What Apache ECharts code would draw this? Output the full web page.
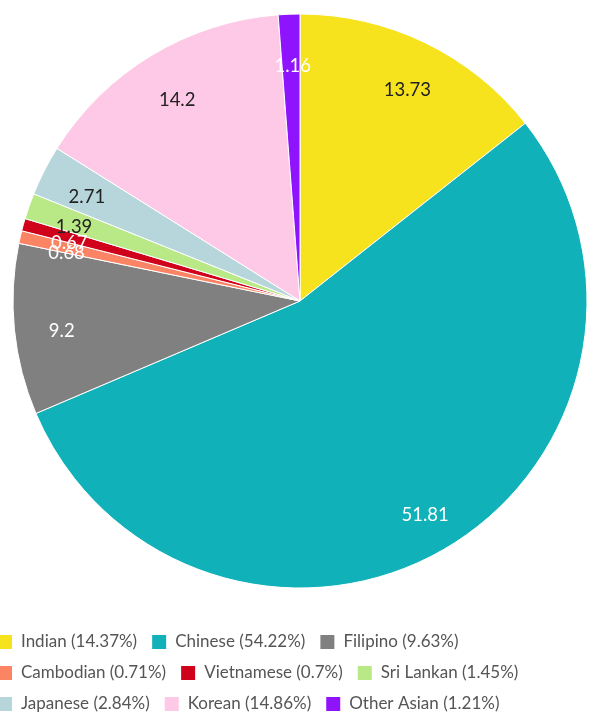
<!DOCTYPE html>
<html>
<head>
<meta charset="utf-8">
<script src="https://cdn.jsdelivr.net/npm/echarts@6/dist/echarts.min.js"></script>
<style>
html, body { margin: 0; padding: 0; background: #fff; }
#pie { width: 611px; height: 713px; }
</style>
</head>
<body>
<div id="pie"></div>
<script>
var categories = ['Indian', 'Chinese', 'Filipino', 'Cambodian', 'Vietnamese', 'Sri Lankan', 'Japanese', 'Korean', 'Other Asian'];
var values = [13.73, 51.81, 9.2, 0.68, 0.67, 1.39, 2.71, 14.2, 1.16];
var colors = ['#f6e21d', '#10b1b9', '#808080', '#fb8465', '#d0021b', '#b8e986', '#b6d6dc', '#fdc9e6', '#9013fe'];
var labelColors = ['#222', '#fff', '#fff', '#fff', '#fff', '#222', '#222', '#222', '#fff'];

var total = values.reduce(function (a, b) { return a + b; }, 0);

var seriesData = [];
var labelData = [];
for (var i = 0; i < categories.length; i++) {
    seriesData.push({ name: categories[i], value: values[i], itemStyle: { color: colors[i] } });
    labelData.push({
        name: categories[i],
        value: values[i],
        label: { color: labelColors[i] }
    });
}

var chart = echarts.init(document.getElementById('pie'));
chart.setOption({
    animation: false,
    legend: {
        left: -4,
        top: 633,
        padding: 0,
        width: 600,
        itemWidth: 16,
        itemHeight: 16,
        itemGap: 13,
        icon: 'rect',
        textStyle: { fontFamily: 'Lato', fontSize: 17, color: '#555', lineHeight: 16, padding: [0, 0, 0, 3] },
        data: categories,
        formatter: function (name) {
            var idx = categories.indexOf(name);
            var pct = Number((values[idx] / total * 100).toFixed(2));
            return name + ' (' + pct + '%)';
        }
    },
    series: [
        {
            type: 'pie',
            center: [300, 301],
            radius: 287,
            startAngle: 90,
            clockwise: true,
            label: { show: false },
            labelLine: { show: false },
            itemStyle: { borderColor: '#fff', borderWidth: 1 },
            emphasis: { disabled: true },
            data: seriesData
        },
        {
            type: 'pie',
            center: [300, 301],
            radius: [190, 287],
            startAngle: 90,
            clockwise: true,
            silent: true,
            legendHoverLink: false,
            itemStyle: { color: 'transparent' },
            label: {
                show: true,
                position: 'inside',
                fontFamily: 'Lato',
                fontSize: 18.5,
                offset: [2, 6],
                formatter: '{c}'
            },
            labelLayout: { hideOverlap: false },
            emphasis: { disabled: true },
            data: labelData
        }
    ]
});
</script>
</body>
</html>
